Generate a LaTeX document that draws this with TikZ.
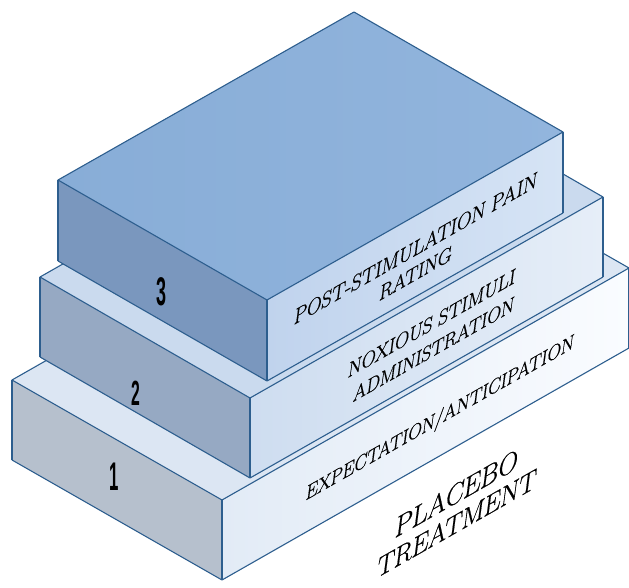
\documentclass[tikz,border=0pt]{standalone}
\usepackage{fontspec}
\newfontfamily\digitfont{Liberation Sans}
\newfontfamily\facefont{Latin Modern Roman}[FakeBold=0.6]
\begin{document}
\begin{tikzpicture}[x=1pt,y=-1pt,
  edge/.style={draw=edgeblue,line width=1.1pt,line join=round},
  vedge/.style={draw=edgeblue,line width=2.6pt},
  facetext/.style={inner sep=0pt,text=black,transform shape},
  numtext/.style={inner sep=0pt,text=black},
  skewface/.style={cm={0.869,0.495,0.13,0.99,(0,0)}}]
\definecolor{edgeblue}{RGB}{45,94,142}
\definecolor{oneleft}{RGB}{182,192,205}
\definecolor{onetop}{RGB}{220,230,243}
\definecolor{onerightA}{RGB}{226,235,246}
\definecolor{onerightB}{RGB}{250,252,255}
\definecolor{twoleft}{RGB}{150,169,195}
\definecolor{twotop}{RGB}{202,218,238}
\definecolor{tworightA}{RGB}{206,221,240}
\definecolor{tworightB}{RGB}{230,238,248}
\definecolor{threeleft}{RGB}{122,151,190}
\definecolor{threetopA}{RGB}{136,173,215}
\definecolor{threetopB}{RGB}{146,181,221}
\definecolor{threerightA}{RGB}{192,211,237}
\definecolor{threerightB}{RGB}{214,228,245}
\useasboundingbox (0,0) rectangle (629,588);
% ---- box 1 ----
\coordinate (A1) at (12,380);  \coordinate (F1) at (222,500);
\coordinate (R1) at (629,268); \coordinate (B1) at (419,148);
\coordinate (A1b) at (12,460); \coordinate (F1b) at (222,580);
\coordinate (R1b) at (629,348);
% ---- box 2 ----
\coordinate (A2) at (40,277);  \coordinate (F2) at (250,398);
\coordinate (R2) at (603,197); \coordinate (B2) at (393,76);
\coordinate (A2b) at (40,357); \coordinate (F2b) at (250,478);
\coordinate (R2b) at (603,277);
% ---- box 3 ----
\coordinate (A3) at (58,180);  \coordinate (F3) at (267,300);
\coordinate (R3) at (563,132); \coordinate (B3) at (354,12);
\coordinate (A3b) at (58,261); \coordinate (F3b) at (267,381);
\coordinate (R3b) at (563,213);

% box 1 faces
\fill[oneleft] (A1) -- (F1) -- (F1b) -- (A1b) -- cycle;
\fill[onetop] (A1) -- (F1) -- (R1) -- (B1) -- cycle;
\shade[left color=onerightA,right color=onerightB] (F1) -- (R1) -- (R1b) -- (F1b) -- cycle;
\draw[edge] (A1) -- (F1) -- (R1) -- (B1) -- cycle;
\draw[edge] (A1b) -- (F1b) -- (R1b);
\draw[vedge] (A1) -- (A1b); \draw[vedge] (F1) -- (F1b); \draw[vedge] (R1) -- (R1b);

% box 2 faces
\fill[twoleft] (A2) -- (F2) -- (F2b) -- (A2b) -- cycle;
\fill[twotop] (A2) -- (F2) -- (R2) -- (B2) -- cycle;
\shade[left color=tworightA,right color=tworightB] (F2) -- (R2) -- (R2b) -- (F2b) -- cycle;
\draw[edge] (A2) -- (F2) -- (R2) -- (B2) -- cycle;
\draw[edge] (A2b) -- (F2b) -- (R2b);
\draw[vedge] (A2) -- (A2b); \draw[vedge] (F2) -- (F2b); \draw[vedge] (R2) -- (R2b);

% box 3 faces
\fill[threeleft] (A3) -- (F3) -- (F3b) -- (A3b) -- cycle;
\shade[left color=threetopA,right color=threetopB] (A3) -- (F3) -- (R3) -- (B3) -- cycle;
\shade[left color=threerightA,right color=threerightB] (F3) -- (R3) -- (R3b) -- (F3b) -- cycle;
\draw[edge] (A3) -- (F3) -- (R3) -- (B3) -- cycle;
\draw[edge] (A3b) -- (F3b) -- (R3b);
\draw[vedge] (A3) -- (A3b); \draw[vedge] (F3) -- (F3b); \draw[vedge] (R3) -- (R3b);

% numbers
\node[numtext] (n1) at (114,477) {\scalebox{0.42}[1]{\digitfont\bfseries\fontsize{40}{40}\selectfont 1}};
\node[numtext] (n2) at (136,393) {\scalebox{0.45}[1]{\digitfont\bfseries\fontsize{35}{35}\selectfont 2}};
\node[numtext] (n3) at (162,292) {\scalebox{0.45}[1]{\digitfont\bfseries\fontsize{40}{40}\selectfont 3}};

% face texts (skewed onto the right faces)
\begin{scope}[shift={(457,493)},skewface]
  \node[facetext,font=\facefont\fontsize{31}{31}\selectfont] (t1a) at (0,0) {PLACEBO};
\end{scope}
\begin{scope}[shift={(457,523)},skewface]
  \node[facetext,font=\facefont\fontsize{30}{31}\selectfont] (t1b) at (0,0) {TREATMENT};
\end{scope}
\begin{scope}[shift={(440,419)},skewface]
  \node[facetext,font=\facefont\fontsize{21.6}{24}\selectfont] (t2) at (0,0) {EXPECTATION/ANTICIPATION};
\end{scope}
\begin{scope}[shift={(432,323)},skewface]
  \node[facetext,font=\facefont\fontsize{22.4}{24}\selectfont] (t3a) at (0,0) {NOXIOUS STIMULI};
\end{scope}
\begin{scope}[shift={(434,349)},skewface]
  \node[facetext,font=\facefont\fontsize{21.8}{24}\selectfont] (t3b) at (0,0) {ADMINISTRATION};
\end{scope}
\begin{scope}[shift={(416,248)},skewface]
  \node[facetext,font=\facefont\fontsize{23.2}{24}\selectfont] (t4a) at (0,0) {POST-STIMULATION PAIN};
\end{scope}
\begin{scope}[shift={(416,273)},skewface]
  \node[facetext,font=\facefont\fontsize{22.4}{24}\selectfont] (t4b) at (0,0) {RATING};
\end{scope}
\end{tikzpicture}
\end{document}
